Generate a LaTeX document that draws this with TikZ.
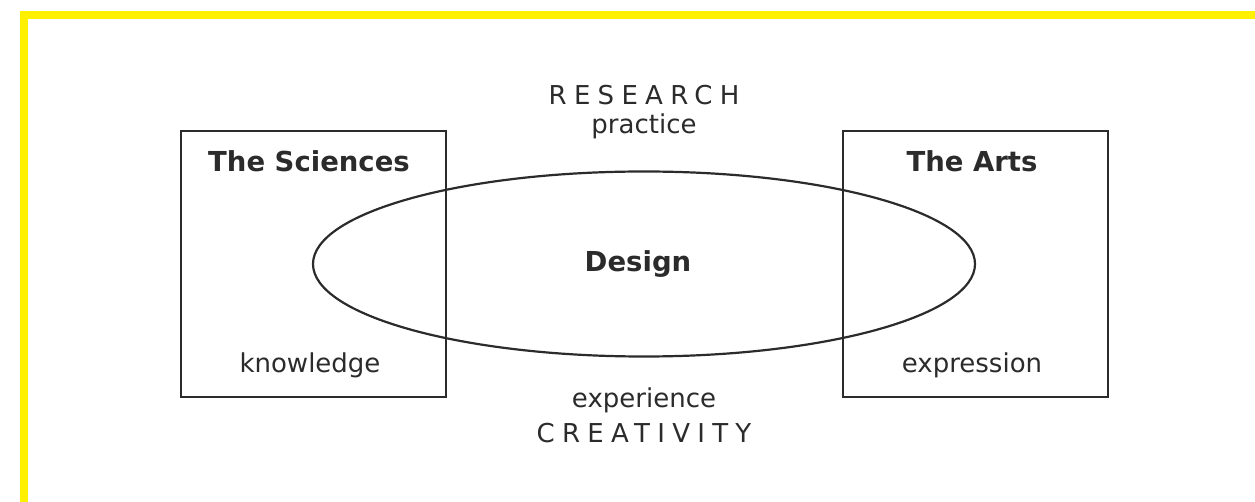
\documentclass[tikz,border=0pt]{standalone}
\usepackage{fontspec}
\setmainfont{DejaVu Sans}
\usepackage{tikz}
\usetikzlibrary{shapes.geometric}
\definecolor{ink}{HTML}{2B2B2B}
\definecolor{frameyellow}{HTML}{FFF000}
\tikzset{
  field/.style={draw=ink, line width=2pt, minimum width=265pt, minimum height=265pt, inner sep=0pt},
  heading/.style={anchor=base, text=ink, font=\fontsize{27.5}{31}\selectfont\bfseries},
  label/.style={anchor=base, text=ink, font=\fontsize{26}{30}\selectfont},
  spaced/.style={anchor=base, text=ink, font=\fontsize{26}{30}\selectfont\addfontfeature{LetterSpace=28}},
}

\begin{document}
\begin{tikzpicture}[x=1pt, y=-1pt]
\useasboundingbox (0,0) rectangle (1255,502);
\draw[frameyellow, line width=8pt] (24,502) -- (24,15) -- (1255,15);

\node[field] (sciences) at (313,264) {};
\node[field] (arts) at (975,264) {};
\node[draw=ink, line width=2.2pt, ellipse, minimum width=662pt, minimum height=185pt, inner sep=0pt] (design) at (644,264) {};

\node[heading] (scititle) at (309,172) {The Sciences};
\node[label] (knowledge) at (310,373) {knowledge};
\node[heading] (artstitle) at (972,172) {The Arts};
\node[label] (expression) at (972,373) {expression};
\node[heading] (designlabel) at (638,272) {Design};

\node[spaced] (research) at (644,105) {RESEARCH};
\node[label] (practice) at (644,134) {practice};
\node[label] (experience) at (644,407) {experience};
\node[spaced] (creativity) at (644,442) {CREATIVITY};
\end{tikzpicture}
\end{document}
